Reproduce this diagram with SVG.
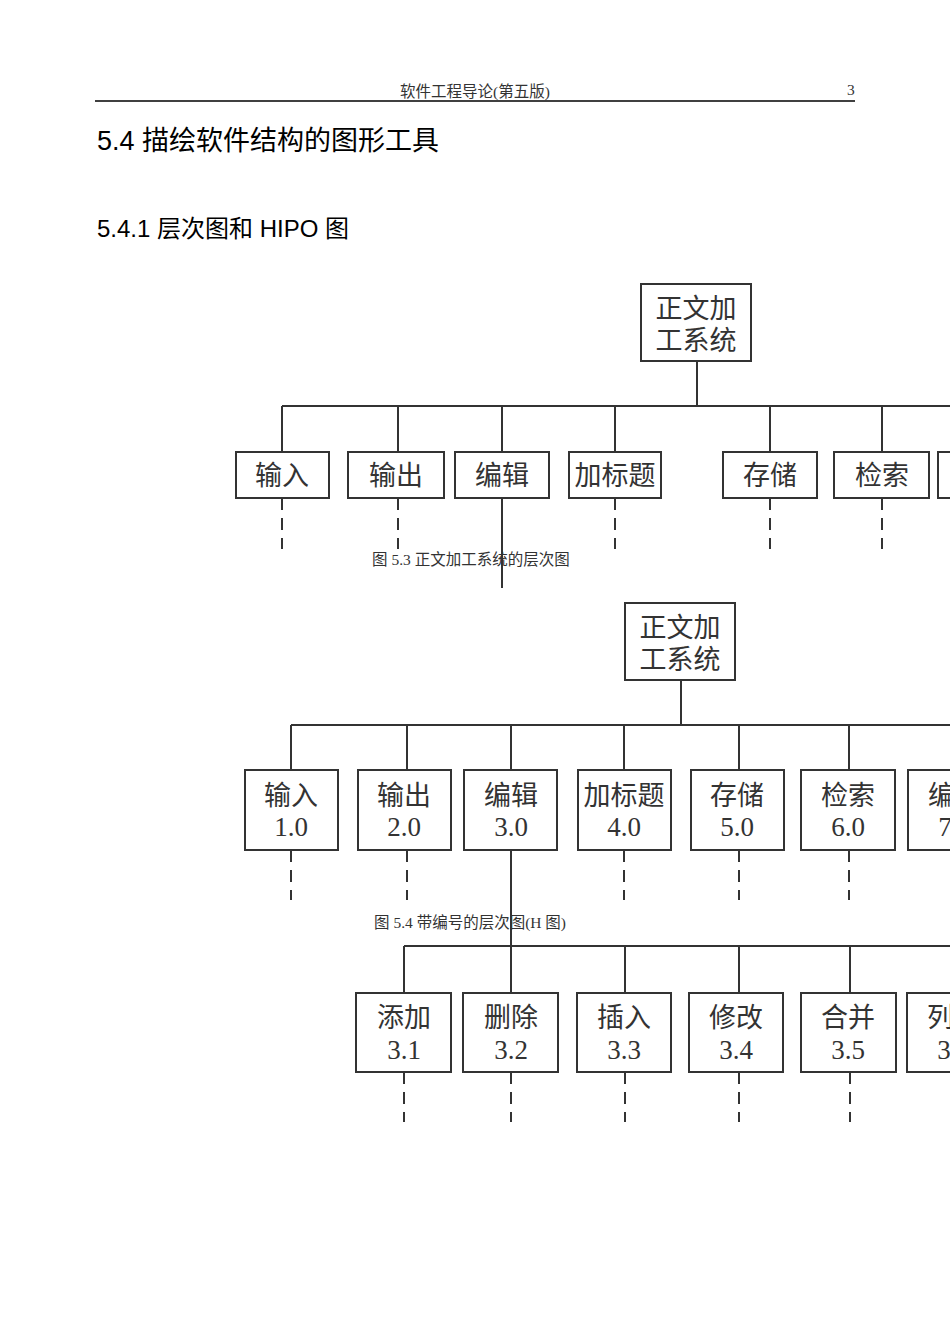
<svg xmlns="http://www.w3.org/2000/svg" width="950" height="1343" viewBox="0 0 950 1343">
<style>
.b{fill:#fff;stroke:#333;stroke-width:2}
.l{stroke:#333;stroke-width:2;fill:none}
.d{stroke:#333;stroke-width:2;stroke-dasharray:12,8;fill:none}
.t{font-family:"Liberation Serif","Noto Sans CJK SC",serif;font-size:27px;fill:#333;text-anchor:middle}
.c{font-family:"Liberation Serif","Noto Sans CJK SC",serif;font-size:15.5px;fill:#333}
</style>
<rect width="950" height="1343" fill="#fff"/>
<g id="header">
<text x="475" y="97" class="c" text-anchor="middle" font-size="16.5">软件工程导论(第五版)</text>
<text x="847" y="95" class="c" font-size="17">3</text>
<line x1="95" y1="101" x2="855" y2="101" stroke="#000" stroke-width="1.5"/>
<text x="97" y="150" font-family="Liberation Sans,Noto Sans CJK SC,sans-serif" font-size="27" fill="#000">5.4 描绘软件结构的图形工具</text>
<text x="97" y="237" font-family="Liberation Sans,Noto Sans CJK SC,sans-serif" font-size="24" fill="#000">5.4.1 层次图和 HIPO 图</text>
</g>
<g id="connectors">
<path class="l" d="M697 361V406M282 406H950M282 406V452M398 406V452M502 406V452M615 406V452M770 406V452M882 406V452M502 498V588"/>
<path class="d" d="M282 498V549M398 498V549M615 498V549M770 498V549M882 498V549"/>
<path class="l" d="M681 680V725M291 725H950M291 725V770M407 725V770M511 725V770M624 725V770M739 725V770M849 725V770M511 850V993M404 946H950M404 946V993M625 946V993M739 946V993M850 946V993"/>
<path class="d" d="M291 850V900M407 850V900M624 850V900M739 850V900M849 850V900M404 1072V1122M511 1072V1122M625 1072V1122M739 1072V1122M850 1072V1122"/>
</g>
<g id="top1"><rect class="b" x="641" y="284" width="110" height="77"/><text class="t" x="696" y="318">正文加</text><text class="t" x="696" y="350">工系统</text></g>
<g id="r1a"><rect class="b" x="236" y="452" width="93" height="46"/><text class="t" x="282" y="485">输入</text></g>
<g id="r1b"><rect class="b" x="348" y="452" width="96" height="46"/><text class="t" x="396" y="485">输出</text></g>
<g id="r1c"><rect class="b" x="455" y="452" width="94" height="46"/><text class="t" x="502" y="485">编辑</text></g>
<g id="r1d"><rect class="b" x="569" y="452" width="92" height="46"/><text class="t" x="615" y="485">加标题</text></g>
<g id="r1e"><rect class="b" x="723" y="452" width="94" height="46"/><text class="t" x="770" y="485">存储</text></g>
<g id="r1f"><rect class="b" x="834" y="452" width="95" height="46"/><text class="t" x="882" y="485">检索</text></g>
<g id="r1g"><rect class="b" x="938" y="452" width="94" height="46"/><text class="t" x="985" y="485">编目</text></g>
<text id="cap1" class="c" x="372" y="565">图 5.3 正文加工系统的层次图</text>
<g id="top2"><rect class="b" x="625" y="603" width="110" height="77"/><text class="t" x="680" y="637">正文加</text><text class="t" x="680" y="669">工系统</text></g>
<g id="r2a"><rect class="b" x="245" y="770" width="93" height="80"/><text class="t" x="291" y="805">输入</text><text class="t" x="291" y="836">1.0</text></g>
<g id="r2b"><rect class="b" x="358" y="770" width="93" height="80"/><text class="t" x="404" y="805">输出</text><text class="t" x="404" y="836">2.0</text></g>
<g id="r2c"><rect class="b" x="464" y="770" width="93" height="80"/><text class="t" x="511" y="805">编辑</text><text class="t" x="511" y="836">3.0</text></g>
<g id="r2d"><rect class="b" x="578" y="770" width="93" height="80"/><text class="t" x="624" y="805">加标题</text><text class="t" x="624" y="836">4.0</text></g>
<g id="r2e"><rect class="b" x="691" y="770" width="93" height="80"/><text class="t" x="737" y="805">存储</text><text class="t" x="737" y="836">5.0</text></g>
<g id="r2f"><rect class="b" x="801" y="770" width="94" height="80"/><text class="t" x="848" y="805">检索</text><text class="t" x="848" y="836">6.0</text></g>
<g id="r2g"><rect class="b" x="908" y="770" width="94" height="80"/><text class="t" x="955" y="805">编目</text><text class="t" x="955" y="836">7.0</text></g>
<text id="cap2" class="c" x="374" y="928">图 5.4 带编号的层次图(H 图)</text>
<g id="r3a"><rect class="b" x="356" y="993" width="95" height="79"/><text class="t" x="404" y="1027">添加</text><text class="t" x="404" y="1059">3.1</text></g>
<g id="r3b"><rect class="b" x="463" y="993" width="95" height="79"/><text class="t" x="511" y="1027">删除</text><text class="t" x="511" y="1059">3.2</text></g>
<g id="r3c"><rect class="b" x="577" y="993" width="94" height="79"/><text class="t" x="624" y="1027">插入</text><text class="t" x="624" y="1059">3.3</text></g>
<g id="r3d"><rect class="b" x="689" y="993" width="94" height="79"/><text class="t" x="736" y="1027">修改</text><text class="t" x="736" y="1059">3.4</text></g>
<g id="r3e"><rect class="b" x="801" y="993" width="95" height="79"/><text class="t" x="848" y="1027">合并</text><text class="t" x="848" y="1059">3.5</text></g>
<g id="r3f"><rect class="b" x="907" y="993" width="95" height="79"/><text class="t" x="954" y="1027">列表</text><text class="t" x="954" y="1059">3.6</text></g>
</svg>
